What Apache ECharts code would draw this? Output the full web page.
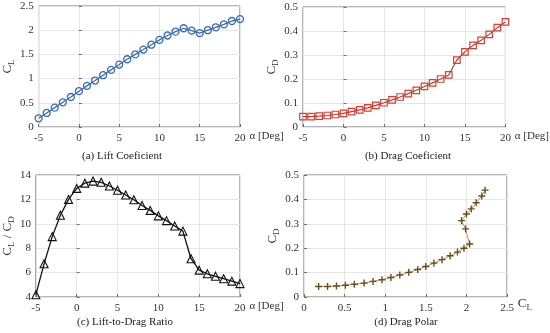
<!DOCTYPE html>
<html><head><meta charset="utf-8">
<script src="https://cdn.jsdelivr.net/npm/echarts@6/dist/echarts.min.js"></script>
<style>html,body{margin:0;padding:0;background:#fff}#c{width:550px;height:333px}</style>
</head><body><div id="c"></div>
<script>
const alpha = [-5,-4,-3,-2,-1,0,1,2,3,4,5,6,7,8,9,10,11,12,13,14,15,16,17,18,19,20];
const CL = [0.18,0.29,0.40,0.51,0.62,0.74,0.85,0.96,1.07,1.18,1.29,1.40,1.50,1.60,1.70,1.80,1.89,1.97,2.04,1.99,1.94,2.00,2.06,2.12,2.19,2.23];
const CD = [0.043,0.043,0.045,0.048,0.052,0.057,0.064,0.071,0.080,0.090,0.101,0.113,0.125,0.139,0.153,0.169,0.184,0.200,0.217,0.279,0.313,0.340,0.361,0.386,0.414,0.438];
const LD = [4.19,6.72,8.95,10.7,12.0,12.9,13.33,13.5,13.4,13.1,12.75,12.36,11.97,11.5,11.1,10.65,10.26,9.82,9.4,7.14,6.2,5.9,5.7,5.5,5.3,5.1];
const captions = ['(a) Lift Coeficient','(b) Drag Coeficient','(c) Lift-to-Drag Ratio','(d) Drag Polar'];

const F = 'Liberation Serif, Times New Roman, serif';
const chart = echarts.init(document.getElementById('c'));
const grids = [
  {left:33, top:6, width:207, height:121},
  {left:303, top:7, width:204, height:120},
  {left:33, top:175, width:207, height:122},
  {left:304, top:175, width:203, height:122}
].map(g => Object.assign({show:true, borderColor:'#6e6e6e', borderWidth:1, backgroundColor:'#fff'}, g));

const lab = {fontFamily:F, fontSize:11, color:'#333'};
const split = {show:true, lineStyle:{color:'#e6e6e6', width:1}};
const rich = {
  a:{fontFamily:F, fontSize:13, color:'#333'},
  b:{fontFamily:F, fontSize:9, color:'#333', padding:[8,0,0,0]}
};
function xA(i, min, max, itv, name, pad){
  return {type:'value', gridIndex:i, min, max, interval:itv,
    axisLine:{show:false}, axisTick:{show:true, inside:true, length:3, lineStyle:{color:'#6e6e6e'}},
    axisLabel:Object.assign({margin:6}, lab), splitLine:split,
    name, nameLocation:'end', nameGap:4,
    nameTextStyle:{fontFamily:F, fontSize:11, color:'#333', verticalAlign:'top', padding:[pad,0,0,0], rich}};
}
function yA(i, min, max, itv, name, gap){
  return {type:'value', gridIndex:i, min, max, interval:itv,
    axisLine:{show:false}, axisTick:{show:true, inside:true, length:3, lineStyle:{color:'#6e6e6e'}},
    axisLabel:Object.assign({margin:5}, lab), splitLine:split,
    name, nameLocation:'middle', nameGap:gap, nameRotate:90,
    nameTextStyle:{rich}};
}
const xs = [
  xA(0,-5,20,5,'α [Deg]',4), xA(1,-5,20,5,'α [Deg]',4), xA(2,-5,20,5,'α [Deg]',4),
  xA(3,0,2.5,0.5,'{a|C}{b|L}',-2)
];
const ys = [
  yA(0,0,2.5,0.5,'{a|C}{b|L}',20), yA(1,0,0.5,0.1,'{a|C}{b|D}',18),
  yA(2,4,14,2,'{a|C}{b|L}{a| / C}{b|D}',18), yA(3,0,0.5,0.1,'{a|C}{b|D}',18)
];
const pair = (a,b) => a.map((v,i)=>[v,b[i]]);
const plus = 'path://M0,5L10,5M5,0L5,10';
const series = [
  {type:'line', xAxisIndex:0, yAxisIndex:0, data:pair(alpha,CL), symbol:'circle', symbolSize:7,
    lineStyle:{color:'#3d6db4', width:1.3}, itemStyle:{color:'rgba(255,255,255,0)', borderColor:'#3d6db4', borderWidth:1.3}},
  {type:'line', xAxisIndex:1, yAxisIndex:1, data:pair(alpha,CD), symbol:'rect', symbolSize:6.5,
    lineStyle:{color:'#a04a2a', width:1.2}, itemStyle:{color:'rgba(255,255,255,0)', borderColor:'#dd3b33', borderWidth:1.2}},
  {type:'line', xAxisIndex:2, yAxisIndex:2, data:pair(alpha,LD), symbol:'triangle', symbolSize:8,
    lineStyle:{color:'#111', width:1.3}, itemStyle:{color:'rgba(255,255,255,0)', borderColor:'#111', borderWidth:1.1}},
  {type:'line', xAxisIndex:3, yAxisIndex:3, data:pair(CL,CD), symbol:plus, symbolSize:7,
    lineStyle:{color:'#b8946a', width:1}, itemStyle:{color:'rgba(0,0,0,0)', borderColor:'#6b4e1c', borderWidth:1.4}}
].map(s => Object.assign({silent:true, animation:false, z:3}, s));

const capPos = [[122,156],[408,156],[125,322],[406,322]];
const graphic = captions.map((t,i)=>({type:'text', x:capPos[i][0], y:capPos[i][1],
  style:{text:t, fontFamily:F, fontSize:11, fill:'#222', textAlign:'center', textVerticalAlign:'middle'}}));

chart.setOption({animation:false, grid:grids, xAxis:xs, yAxis:ys, series, graphic});
</script></body></html>
